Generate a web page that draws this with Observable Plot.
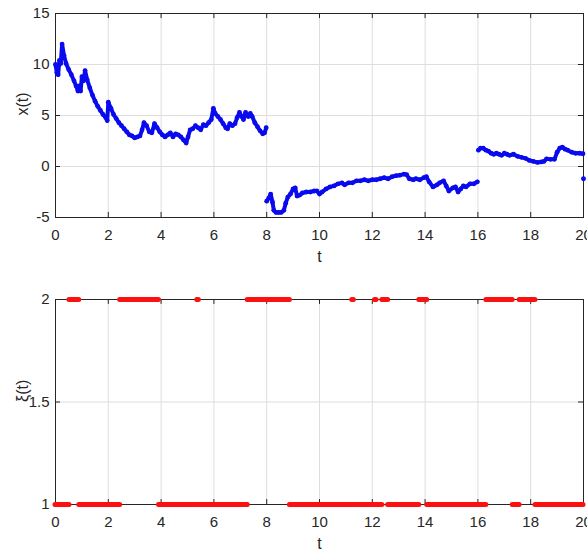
<!DOCTYPE html>
<html><head><meta charset="utf-8">
<script src="https://cdn.jsdelivr.net/npm/d3@7"></script>
<script src="https://cdn.jsdelivr.net/npm/@observablehq/plot@0.6"></script>
<style>body{margin:0;background:#fff} #chart svg{display:block}</style>
</head><body><div id="chart"></div>
<script>
// x(t) trajectory, three pieces split by the jumps at t = 8 and t = 16, plus the last sample at t = 20
const segA = [[0,10.0],[0.05,9.2],[0.1,9.0],[0.15,10.4],[0.2,10.1],[0.25,12.0],[0.32,10.9],[0.4,10.1],[0.5,9.5],[0.6,9.0],
  [0.7,8.4],[0.78,7.9],[0.85,7.4],[0.9,7.9],[0.95,7.4],[1.0,8.8],[1.06,8.4],[1.12,9.4],[1.2,8.5],[1.3,7.7],
  [1.4,7.0],[1.5,6.4],[1.6,5.9],[1.7,5.5],[1.8,5.1],[1.9,4.8],[1.96,4.5],[2.0,6.3],[2.1,5.7],[2.2,5.1],
  [2.3,4.7],[2.4,4.3],[2.5,4.0],[2.6,3.7],[2.7,3.4],[2.8,3.1],[2.9,3.0],[3.0,2.8],[3.1,2.9],[3.2,3.0],
  [3.28,3.6],[3.35,4.3],[3.45,4.0],[3.55,3.4],[3.65,3.3],[3.75,4.2],[3.85,3.8],[3.95,3.4],[4.05,3.1],[4.15,2.9],
  [4.25,3.1],[4.35,3.3],[4.45,2.9],[4.55,3.2],[4.65,3.1],[4.75,2.9],[4.85,2.6],[4.95,2.3],[5.02,2.9],[5.1,3.6],
  [5.2,3.7],[5.3,4.0],[5.4,3.8],[5.5,3.6],[5.6,4.1],[5.7,4.0],[5.8,4.3],[5.9,4.6],[5.98,5.7],[6.05,5.2],
  [6.15,4.9],[6.25,4.6],[6.35,4.2],[6.45,3.8],[6.52,3.7],[6.6,4.2],[6.7,4.0],[6.8,4.2],[6.88,4.8],[6.97,5.3],
  [7.05,4.9],[7.12,4.6],[7.2,5.3],[7.3,4.9],[7.38,5.2],[7.45,4.9],[7.55,4.3],[7.65,3.9],[7.75,3.5],[7.85,3.2],
  [7.92,3.3],[7.98,3.8]];
const segB = [[8.0,-3.4],[8.08,-3.1],[8.15,-2.7],[8.22,-3.5],[8.27,-4.3],[8.35,-4.5],[8.45,-4.5],[8.55,-4.5],[8.65,-4.3],[8.72,-3.6],
  [8.8,-3.0],[8.9,-2.7],[9.0,-2.2],[9.08,-2.1],[9.15,-2.9],[9.25,-2.8],[9.35,-2.6],[9.5,-2.5],[9.65,-2.5],[9.8,-2.4],
  [9.9,-2.4],[10.0,-2.7],[10.1,-2.5],[10.25,-2.2],[10.4,-2.0],[10.55,-1.9],[10.7,-1.7],[10.85,-1.6],[10.95,-1.8],[11.1,-1.6],
  [11.25,-1.6],[11.4,-1.4],[11.55,-1.4],[11.7,-1.3],[11.85,-1.4],[12.0,-1.3],[12.15,-1.3],[12.3,-1.2],[12.45,-1.1],[12.6,-1.2],
  [12.75,-1.0],[12.9,-0.9],[13.05,-0.85],[13.2,-0.75],[13.3,-0.8],[13.4,-1.2],[13.55,-1.3],[13.65,-1.2],[13.8,-1.3],[13.95,-1.1],
  [14.05,-1.0],[14.15,-1.5],[14.3,-2.0],[14.45,-1.8],[14.55,-1.6],[14.7,-1.4],[14.8,-1.9],[14.9,-2.4],[15.05,-2.1],[15.15,-2.0],
  [15.25,-2.5],[15.35,-2.2],[15.45,-1.9],[15.55,-2.0],[15.7,-1.7],[15.85,-1.7],[15.98,-1.5]];
const segC = [[16.02,1.6],[16.1,1.8],[16.2,1.8],[16.3,1.6],[16.4,1.5],[16.5,1.3],[16.6,1.2],[16.7,1.3],[16.8,1.2],[16.9,1.1],
  [17.0,1.3],[17.1,1.2],[17.2,1.1],[17.35,1.2],[17.5,1.0],[17.65,0.9],[17.8,0.8],[17.95,0.6],[18.1,0.5],[18.25,0.4],
  [18.4,0.45],[18.5,0.5],[18.6,0.75],[18.75,0.7],[18.9,0.7],[19.0,1.4],[19.1,1.8],[19.2,1.9],[19.3,1.7],[19.4,1.6],
  [19.55,1.4],[19.7,1.3],[19.85,1.3],[19.98,1.25]];
const segD = [[20.0,-1.2]];

// Markov chain ξ(t): state held on [start, end)
const regimeStart = [0, 0.53, 0.9, 2.45, 3.92, 5.37, 5.43, 7.28, 8.88, 11.24, 11.3, 12.1, 12.16, 12.38, 12.6, 13.78, 14.08, 16.32, 17.32, 17.58, 18.18];
const regimeEnd   = [0.53, 0.9, 2.45, 3.92, 5.37, 5.43, 7.28, 8.88, 11.24, 11.3, 12.1, 12.16, 12.38, 12.6, 13.78, 14.08, 16.32, 17.32, 17.58, 18.18, 20];
const regimeState = [1, 2, 1, 2, 1, 2, 1, 2, 1, 2, 1, 2, 1, 2, 1, 2, 1, 2, 1, 2, 1];

const xTicks = [0, 2, 4, 6, 8, 10, 12, 14, 16, 18, 20];
const topYTicks = [-5, 0, 5, 10, 15];
const botYTicks = [1, 1.5, 2];

const traj = [segA, segB, segC, segD].flatMap((s, i) => s.map(([t, x]) => ({t, x, seg: i})));
const regimes = regimeStart.map((s, i) => ({start: s, end: regimeEnd[i], state: regimeState[i]}));

const FONT = "'Liberation Sans', Arial, Helvetica, sans-serif";
const INK = "#262626";
const GRID = "#dedede";
const BLUE = "#0a0aee";
const RED = "#ff1010";

function panel({height, marginTop, marginBottom, yDomain, yTicks, yLabel, marks, tickLenY}) {
  const [y0, y1] = yDomain;
  return Plot.plot({
    width: 587, height, marginLeft: 55, marginRight: 4, marginTop, marginBottom,
    style: {fontFamily: FONT, fontSize: "15px", color: INK, background: "#fff"},
    x: {domain: [0, 20]},
    y: {domain: yDomain},
    marks: [
      Plot.gridX(xTicks, {stroke: GRID, strokeOpacity: 1}),
      Plot.gridY(yTicks, {stroke: GRID, strokeOpacity: 1}),
      Plot.frame({stroke: INK, strokeWidth: 1}),
      Plot.ruleX(xTicks, {x: d => d, y1: y0, y2: y0 + tickLenY, stroke: INK}),
      Plot.ruleX(xTicks, {x: d => d, y1: y1, y2: y1 - tickLenY, stroke: INK}),
      Plot.ruleY(yTicks, {y: d => d, x1: 0, x2: 0.19, stroke: INK}),
      Plot.ruleY(yTicks, {y: d => d, x1: 20, x2: 19.81, stroke: INK}),
      Plot.axisX(xTicks, {tickSize: 0, tickPadding: 12, label: null, tickFormat: d => String(d), fill: INK}),
      Plot.axisY(yTicks, {tickSize: 0, tickPadding: 6, label: null, tickFormat: d => String(d), fill: INK}),
      ...marks,
      Plot.text(["t"], {frameAnchor: "bottom", dy: 44, text: d => d, fontSize: 16, fill: INK}),
      Plot.text([yLabel], {frameAnchor: "left", dx: -33, rotate: -90, text: d => d, fontSize: 16, fill: INK})
    ]
  });
}

const topPanel = panel({
  height: 280, marginTop: 13, marginBottom: 63,
  yDomain: [-5, 15], yTicks: topYTicks, yLabel: "x(t)", tickLenY: 0.5,
  marks: [
    Plot.line(traj, {x: "t", y: "x", z: "seg", stroke: BLUE, strokeWidth: 4, strokeLinejoin: "round", strokeLinecap: "round"}),
    Plot.dot(traj, {x: "t", y: "x", r: 2.4, fill: BLUE, stroke: null})
  ]
});

const bottomPanel = panel({
  height: 276, marginTop: 19, marginBottom: 52,
  yDomain: [1, 2], yTicks: botYTicks, yLabel: "ξ(t)", tickLenY: 0.024,
  marks: [
    Plot.ruleY(regimes, {y: "state", x1: "start", x2: "end", stroke: RED, strokeWidth: 5, strokeLinecap: "round"})
  ]
});

document.getElementById("chart").append(topPanel, bottomPanel);
</script>
</body></html>
